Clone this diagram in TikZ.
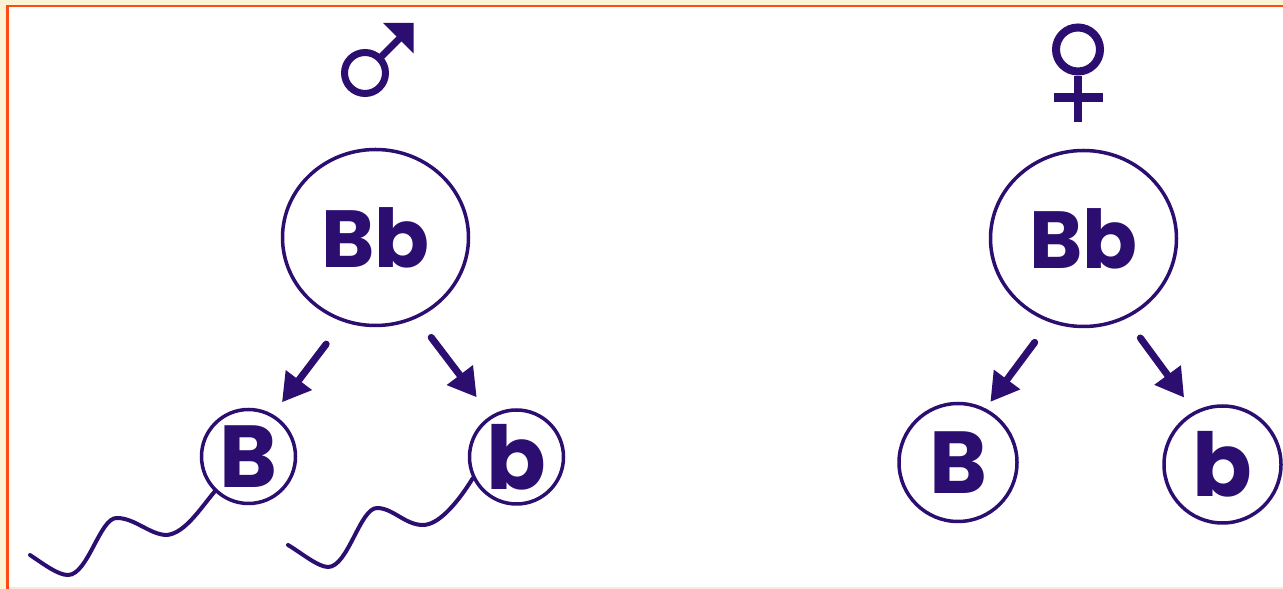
\documentclass[tikz,border=0pt]{standalone}
\usepackage{fontspec}
\setmainfont{Poppins}
\usepackage{xcolor}
\usepackage{tikz}
\usetikzlibrary{arrows.meta,shapes.geometric}

\definecolor{ink}{RGB}{43,14,112}
\definecolor{frame}{RGB}{255,74,22}
\definecolor{cream}{RGB}{250,243,212}
\definecolor{blush}{RGB}{252,230,222}

\tikzset{
  zygote/.style={ellipse,draw=ink,line width=3.5pt,inner sep=0pt,
    minimum width=186pt,minimum height=176pt,text=ink,
    font=\fontsize{81}{81}\selectfont\bfseries},
  gamete/.style={circle,draw=ink,line width=3.5pt,inner sep=0pt,
    text=ink,font=\fontsize{88}{88}\selectfont\bfseries},
  split/.style={draw=ink,line width=7pt,line cap=round,
    -{Triangle[length=28pt,width=31pt]}},
  tail/.style={draw=ink,line width=4pt,line cap=round},
  sign/.style={draw=ink,line width=7pt}
}

\begin{document}
\begin{tikzpicture}[x=1pt,y=1pt]
\useasboundingbox (0,0) rectangle (1283,589);

% Frame
\fill[cream] (0,0) rectangle (1283,589);
\fill[white] (8,0) rectangle (1283,582);
\fill[frame] (6,0) rectangle (8.5,584);
\fill[frame] (6,581.5) rectangle (1283,584);
\fill[blush] (8.5,0) rectangle (1283,1.5);

% Male sign
\draw[sign] (365,516) circle (20.5);
\draw[sign] (379.5,530.5) -- (401,552);
\fill[ink] (383,566) -- (413.5,566) -- (413.5,535.5) -- cycle;

% Female sign
\draw[sign,line width=8pt] (1078,539.5) circle (22);
\draw[sign,line width=8pt] (1078,513) -- (1078,467);
\draw[sign,line width=9pt] (1054,491) -- (1103,491);

% Parents
\node[zygote] (Bbm) at (375.5,351.5) {Bb};
\node[zygote] (Bbf) at (1083.5,350.5) {Bb};

% Gametes
\node[gamete,minimum size=94pt]  (Bm) at (248.5,132.5) {B};
\node[gamete,minimum size=94pt]  (bm) at (516.5,132) {b};
\node[gamete,minimum size=118pt] (Bf) at (958,126.5) {B};
\node[gamete,minimum size=117pt] (bf) at (1222.5,124.5) {b};

% Arrows
\draw[split,shorten <=28pt,shorten >=15pt] (Bbm.249) -- (Bm.60);
\draw[split,shorten <=24pt,shorten >=23pt] (Bbm.297) -- (bm.122);
\draw[split,shorten <=25pt,shorten >=8pt]  (Bbf.248) -- (Bf.63);
\draw[split,shorten <=24pt,shorten >=17pt] (Bbf.298) -- (bf.118);

% Tails
\draw[tail] (Bm.226) .. controls (200,80) and (185,56) .. (167,54)
  .. controls (150,54) and (135,71) .. (117,71)
  .. controls (100,72) and (88,14) .. (68,14)
  .. controls (58,14) and (45,24) .. (30,34);
\draw[tail] (bm.206) .. controls (460,90) and (440,64) .. (423,64)
  .. controls (405,64) and (393,81) .. (377,81)
  .. controls (360,81) and (348,22) .. (328,22)
  .. controls (318,22) and (300,37) .. (288,44);
\end{tikzpicture}
\end{document}
